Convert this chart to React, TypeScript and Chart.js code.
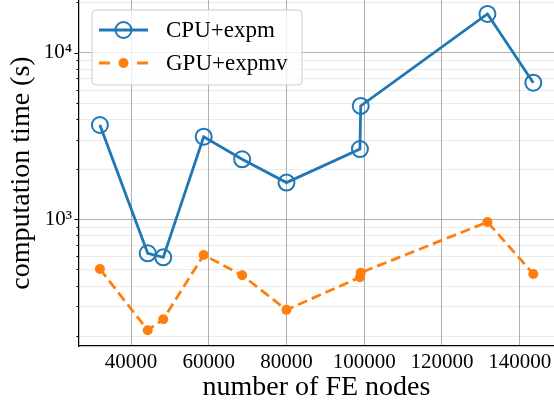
import React, { useEffect, useRef } from 'react';
import { Chart, registerables } from 'chart.js';

Chart.register(...registerables);

// ---- data ----
const nodes = [32000, 44300, 48300, 58700, 68600, 80000, 98900, 99100, 131700, 143500];
const cpuTimes = [3680, 625, 591, 3130, 2290, 1660, 2640, 4790, 17070, 6600];
const gpuTimes = [503, 216, 251, 611, 461, 286, 449, 478, 963, 470];
const seriesLabels = ['CPU+expm', 'GPU+expmv'];
const xTicks = [40000, 60000, 80000, 100000, 120000, 140000];
const yMajorTicks = [1000, 10000];
const yMinorTicks = [200, 300, 400, 500, 600, 700, 800, 900, 2000, 3000, 4000, 5000, 6000, 7000, 8000, 9000, 20000];
const xTitle = 'number of FE nodes';
const yTitle = 'computation time (s)';

const CPU_COLOR = '#1f77b4';
const GPU_COLOR = '#ff7f0e';
const FONT = "'Liberation Serif', 'Times New Roman', serif";
const SUP: Record<string, string> = { '0': '⁰', '1': '¹', '2': '²', '3': '³', '4': '⁴', '5': '⁵', '6': '⁶', '7': '⁷', '8': '⁸', '9': '⁹' };

const minorGridPlugin = {
  id: 'minorGrid',
  beforeDraw(chart: any) {
    const ctx = chart.ctx;
    const ys = chart.scales.y;
    const { left, right, top, bottom } = chart.chartArea;
    ctx.save();
    ctx.strokeStyle = '#ebebeb';
    ctx.lineWidth = 1;
    for (const v of yMinorTicks) {
      const p = Math.round(ys.getPixelForValue(v)) + 0.5;
      if (p < top - 1 || p > bottom) continue;
      ctx.beginPath();
      ctx.moveTo(left, p);
      ctx.lineTo(right, p);
      ctx.stroke();
    }
    ctx.restore();
  },
  afterDraw(chart: any) {
    const ctx = chart.ctx;
    const ys = chart.scales.y;
    const { left, top, bottom } = chart.chartArea;
    ctx.save();
    ctx.strokeStyle = '#000';
    ctx.lineWidth = 1;
    const mark = (v: number, len: number) => {
      const p = Math.round(ys.getPixelForValue(v)) + 0.5;
      if (p < top - 1 || p > bottom) return;
      ctx.beginPath();
      ctx.moveTo(left - len, p);
      ctx.lineTo(left, p);
      ctx.stroke();
    };
    for (const v of yMinorTicks) mark(v, 2.5);
    for (const v of yMajorTicks) mark(v, 4.5);

    // legend (matplotlib style)
    const bx = 92, by = 10, bw = 210, bh = 75, r = 4;
    ctx.beginPath();
    ctx.moveTo(bx + r, by);
    ctx.lineTo(bx + bw - r, by);
    ctx.quadraticCurveTo(bx + bw, by, bx + bw, by + r);
    ctx.lineTo(bx + bw, by + bh - r);
    ctx.quadraticCurveTo(bx + bw, by + bh, bx + bw - r, by + bh);
    ctx.lineTo(bx + r, by + bh);
    ctx.quadraticCurveTo(bx, by + bh, bx, by + bh - r);
    ctx.lineTo(bx, by + r);
    ctx.quadraticCurveTo(bx, by, bx + r, by);
    ctx.closePath();
    ctx.fillStyle = 'rgba(255,255,255,0.8)';
    ctx.fill();
    ctx.strokeStyle = '#cccccc';
    ctx.lineWidth = 1;
    ctx.stroke();

    const x0 = 99, x1 = 148, xm = (x0 + x1) / 2;
    const y1 = 30, y2 = 63;
    // CPU row
    ctx.strokeStyle = CPU_COLOR;
    ctx.lineWidth = 2.8;
    ctx.beginPath();
    ctx.moveTo(x0, y1);
    ctx.lineTo(x1, y1);
    ctx.stroke();
    ctx.lineWidth = 2;
    ctx.beginPath();
    ctx.arc(xm, y1, 8, 0, Math.PI * 2);
    ctx.stroke();
    // GPU row
    ctx.strokeStyle = GPU_COLOR;
    ctx.lineWidth = 2.8;
    ctx.beginPath();
    ctx.moveTo(x0, y2);
    ctx.lineTo(x0 + 11, y2);
    ctx.moveTo(x1 - 11, y2);
    ctx.lineTo(x1, y2);
    ctx.stroke();
    ctx.fillStyle = GPU_COLOR;
    ctx.beginPath();
    ctx.arc(xm, y2, 5, 0, Math.PI * 2);
    ctx.fill();

    ctx.fillStyle = '#000';
    ctx.font = `23px ${FONT}`;
    ctx.textBaseline = 'middle';
    ctx.textAlign = 'left';
    ctx.fillText(seriesLabels[0], 166, y1 + 1);
    ctx.fillText(seriesLabels[1], 166, y2 + 1);
    ctx.restore();
  },
};

const zeroPadding = (s: any) => {
  s.paddingTop = 0;
  s.paddingBottom = 0;
  s.paddingLeft = 0;
  s.paddingRight = 0;
};

export default function App() {
  const ref = useRef<HTMLCanvasElement>(null);

  useEffect(() => {
    if (!ref.current) return;
    const chart = new Chart(ref.current, {
      type: 'line',
      data: {
        datasets: [
          {
            label: seriesLabels[0],
            data: nodes.map((x, i) => ({ x, y: cpuTimes[i] })),
            borderColor: CPU_COLOR,
            borderWidth: 2.8,
            pointRadius: 8,
            pointHoverRadius: 8,
            pointBorderWidth: 2,
            pointBorderColor: CPU_COLOR,
            pointBackgroundColor: 'rgba(0,0,0,0)',
            fill: false,
            tension: 0,
            clip: false as any,
            order: 1,
          },
          {
            label: seriesLabels[1],
            data: nodes.map((x, i) => ({ x, y: gpuTimes[i] })),
            borderColor: GPU_COLOR,
            borderWidth: 2.8,
            borderDash: [10, 5],
            pointRadius: 5,
            pointHoverRadius: 5,
            pointBorderWidth: 0,
            pointBackgroundColor: GPU_COLOR,
            fill: false,
            tension: 0,
            clip: false as any,
            order: 0,
          },
        ],
      },
      options: {
        animation: false,
        responsive: false,
        devicePixelRatio: 1,
        layout: { padding: 0, autoPadding: false },
        plugins: { legend: { display: false }, tooltip: { enabled: false } },
        scales: {
          x: {
            type: 'linear',
            min: 26622,
            max: 148824,
            afterBuildTicks: (s: any) => {
              s.ticks = xTicks.map((v) => ({ value: v }));
            },
            afterFit: (s: any) => {
              s.height = 58;
              zeroPadding(s);
            },
            grid: { color: '#b0b0b0', lineWidth: 1, drawTicks: false },
            border: { display: true, color: '#000', width: 1.25 },
            ticks: {
              color: '#000',
              padding: 4,
              maxRotation: 0,
              autoSkip: false,
              font: { family: FONT, size: 21 },
              callback: (v: any) => String(v),
            },
            title: {
              display: true,
              text: xTitle,
              color: '#000',
              font: { family: FONT, size: 28 },
              padding: { top: 0, bottom: 0 },
            },
          },
          y: {
            type: 'logarithmic',
            min: 173.6,
            max: 20700,
            afterBuildTicks: (s: any) => {
              s.ticks = yMajorTicks.map((v) => ({ value: v, major: true }));
            },
            afterFit: (s: any) => {
              s.width = 79;
              zeroPadding(s);
            },
            grid: { color: '#b0b0b0', lineWidth: 1, drawTicks: false },
            border: { display: true, color: '#000', width: 1.25 },
            ticks: {
              color: '#000',
              padding: 7,
              autoSkip: false,
              font: { family: FONT, size: 21, lineHeight: 0.1 },
              callback: (v: any) => {
                const e = String(Math.round(Math.log10(Number(v))));
                return '10' + e.split('').map((c) => SUP[c] || c).join('');
              },
            },
            title: {
              display: true,
              text: yTitle,
              color: '#000',
              font: { family: FONT, size: 28 },
              padding: { top: 5, bottom: 0 },
            },
          },
        },
      } as any,
      plugins: [minorGridPlugin],
    });
    return () => chart.destroy();
  }, []);

  return (
    <div style={{ position: 'fixed', left: 0, top: 0, width: 554, height: 404, background: '#fff' }}>
      <canvas ref={ref} width={554} height={404} style={{ display: 'block' }} />
    </div>
  );
}
